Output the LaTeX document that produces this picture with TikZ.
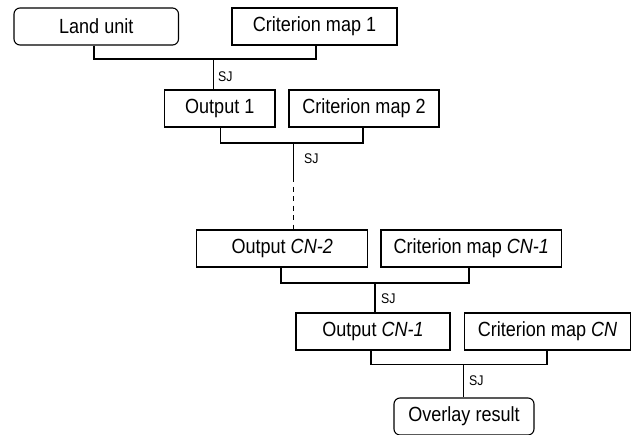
\documentclass[tikz,border=0pt]{standalone}
\usepackage{fontspec}
\setmainfont{Liberation Sans}[FakeStretch=0.88]
\begin{document}
\begin{tikzpicture}[x=1pt,y=-1pt,
  box/.style={draw,line width=1.1pt,rectangle,inner sep=0pt,minimum height=37pt,font=\fontsize{20.5}{24}\selectfont},
  rbox/.style={box,rounded corners=6pt},
  link/.style={draw,line width=1.1pt},
  sj/.style={font=\fontsize{14}{16}\selectfont,anchor=west,inner sep=0pt}]
\useasboundingbox (0,0) rectangle (632,434);
\node[rbox,minimum width=164.5pt] (land) at (96.25,26.5) {Land unit};
\node[box,minimum width=165pt] (cm1) at (314.5,26.5) {Criterion map 1};
\node[box,minimum width=110.5pt] (out1) at (219.75,108.5) {Output 1};
\node[box,minimum width=150pt] (cm2) at (364,108.5) {Criterion map 2};
\node[box,minimum width=171pt] (outn2) at (282.2,248.5) {Output \textit{CN-2}};
\node[box,minimum width=180.5pt] (cmn1) at (471.25,248.5) {Criterion map \textit{CN-1}};
\node[box,minimum width=154pt] (outn1) at (373,331.5) {Output \textit{CN-1}};
\node[box,minimum width=166pt] (cmn) at (547.5,331.5) {Criterion map \textit{CN}};
\node[rbox,minimum width=140pt] (res) at (464,416.5) {Overlay result};
% joins
\coordinate (j1) at (213.6,59);
\coordinate (j2) at (293.5,143);
\coordinate (j3) at (375,283);
\coordinate (j4) at (463.5,364.5);
\coordinate (d1) at (293.5,177);
\draw[link] (land.south -| 94,0) |- (j1) -| (cm1.south -| 316,0);
\draw[link] (j1) -- (out1.north -| j1);
\draw[link] (out1.south -| 220.5,0) |- (j2) -| (cm2.south -| 363,0);
\draw[link] (j2) -- (d1);
\draw[link,dash pattern=on 5pt off 4.5pt] (d1) -- (outn2.north -| j2);
\draw[link] (outn2.south -| 281,0) |- (j3) -| (cmn1.south -| 469,0);
\draw[link] (j3) -- (outn1.north -| j3);
\draw[link] (outn1.south -| 371,0) |- (j4) -| (cmn.south -| 547,0);
\draw[link] (j4) -- (res.north -| j4);
\node[sj] (s1) at (218,77) {SJ};
\node[sj] (s2) at (304,159) {SJ};
\node[sj] (s3) at (381,299) {SJ};
\node[sj] (s4) at (469,381) {SJ};
\end{tikzpicture}
\end{document}
